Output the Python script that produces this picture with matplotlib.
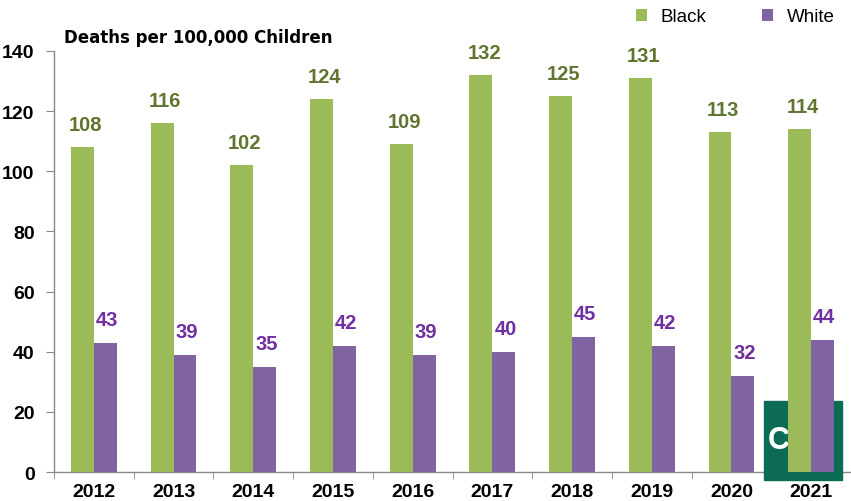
import matplotlib.pyplot as plt
import numpy as np
from matplotlib.patches import Rectangle

years = ['2012', '2013', '2014', '2015', '2016', '2017', '2018', '2019', '2020', '2021']
black = [108, 116, 102, 124, 109, 132, 125, 131, 113, 114]
white = [43, 39, 35, 42, 39, 40, 45, 42, 32, 44]

GREEN = '#9bbb59'
PURPLE = '#8064a2'
GREEN_TXT = '#5f7530'
PURPLE_TXT = '#7030a0'

plt.rcParams['font.family'] = ['Liberation Sans', 'DejaVu Sans']

fig = plt.figure(figsize=(8.51, 5.02), dpi=100)
ax = fig.add_axes([54 / 851, 1 - 473 / 502, 797 / 851, 421 / 502])

x = np.arange(len(years))
w = 0.2875
b1 = ax.bar(x - w / 2, black, w, color=GREEN, label='Black', zorder=3)
b2 = ax.bar(x + w / 2, white, w, color=PURPLE, label='White', zorder=3)

for xi, v in zip(x, black):
    ax.text(xi - w / 2 + 0.04, v + 4.5, str(v), ha='center', va='bottom',
            fontsize=14.5, fontweight='bold', color=GREEN_TXT)
for xi, v in zip(x, white):
    ax.text(xi + w / 2 + 0.02, v + 4.5, str(v), ha='center', va='bottom',
            fontsize=14.5, fontweight='bold', color=PURPLE_TXT)

# logo badge sitting behind the last pair of bars, over the axis line
x0 = 713 / 80 - 0.5
ax.add_patch(Rectangle((x0, -2.6), 78 / 80, 26.1, color='#0c6b55',
                       zorder=2.6, clip_on=False))
ax.text(x0 + 0.04, 10.5, 'CO', color='white', fontsize=22,
        fontweight='bold', va='center', ha='left', zorder=2.7)

ax.set_xlim(-0.5, 9.45)
ax.set_ylim(0, 140)
ax.set_yticks(range(0, 141, 20))
ax.set_xticks(x)
ax.set_xticklabels(years)
ax.set_xticks(np.arange(-0.5, 10, 1), minor=True)
ax.tick_params(axis='x', which='major', length=0, pad=8)
ax.tick_params(axis='x', which='minor', length=5, color='#888888', direction='out')
ax.tick_params(axis='y', length=6, color='#888888', direction='out', pad=8)
for lab in ax.get_xticklabels() + ax.get_yticklabels():
    lab.set_fontweight('bold')
    lab.set_fontsize(14)

for side in ['top', 'right']:
    ax.spines[side].set_visible(False)
for side in ['left', 'bottom']:
    ax.spines[side].set_color('#888888')
    ax.spines[side].set_linewidth(1)

fig.text(64 / 851, 1 - 38 / 502, 'Deaths per 100,000 Children', fontsize=12,
         fontweight='bold', family='DejaVu Sans', va='center', ha='left')

fig.legend(handles=[b1, b2], loc='center', bbox_to_anchor=(735 / 851, 1 - 18 / 502),
           ncol=2, frameon=False, fontsize=13.5, handlelength=0.6, handleheight=0.6,
           columnspacing=3.0, handletextpad=0.7)

fig.savefig('out.png', dpi=100)
